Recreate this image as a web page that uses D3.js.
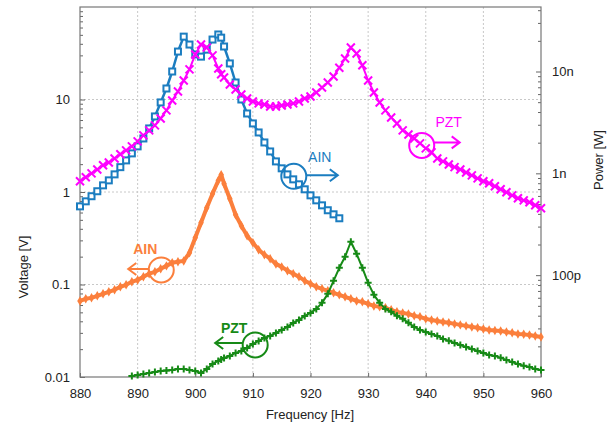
<!DOCTYPE html>
<html>
<head>
<meta charset="utf-8">
<script src="https://cdn.jsdelivr.net/npm/d3@7"></script>
<style>
  body { margin: 0; background: #fff; }
  text { font-family: "Liberation Sans", Arial, sans-serif; fill: #222; }
</style>
</head>
<body>
<div id="chart"></div>
<script>
// frequency points (Hz) shared by all series
var freqHz = [880, 881, 882, 883, 884, 885, 886, 887, 888, 889,
  890, 891, 892, 893, 894, 895, 896, 897, 898, 899,
  900, 901, 902, 903, 904, 904.5, 905, 906, 907, 908, 909,
  910, 911, 912, 913, 914, 915, 916, 917, 918, 919,
  920, 921, 922, 923, 924, 925, 926, 927, 928, 929,
  930, 931, 932, 933, 934, 935, 936, 937, 938, 939,
  940, 941, 942, 943, 944, 945, 946, 947, 948, 949,
  950, 951, 952, 953, 954, 955, 956, 957, 958, 959, 960];

// AIN power [W] (right axis, blue squares)
var ainPower = [4.74e-10, 5.31e-10, 5.96e-10, 6.67e-10, 7.62e-10, 8.53e-10, 9.77e-10, 1.15e-9, 1.34e-9, 1.57e-9,
  1.84e-9, 2.20e-9, 2.76e-9, 3.62e-9, 4.97e-9, 6.81e-9, 1.00e-8, 1.57e-8, 2.20e-8, 1.84e-8,
  1.47e-8, 1.40e-8, 1.64e-8, 2.06e-8, 2.31e-8, 2.15e-8, 1.76e-8, 1.20e-8, 7.80e-9, 5.31e-9, 3.87e-9,
  3.09e-9, 2.52e-9, 2.01e-9, 1.64e-9, 1.31e-9, 1.12e-9, 9.77e-10, 8.73e-10, 7.80e-10, 6.97e-10,
  6.08e-10, 5.43e-10, 4.85e-10, 4.34e-10, 3.96e-10, 3.62e-10, null, null, null, null,
  null, null, null, null, null, null, null, null, null, null,
  null, null, null, null, null, null, null, null, null, null,
  null, null, null, null, null, null, null, null, null, null, null];

// PZT power [W] (right axis, magenta crosses)
var pztPower = [8.36e-10, 9.14e-10, 1.00e-9, 1.09e-9, 1.20e-9, 1.28e-9, 1.40e-9, 1.54e-9, 1.68e-9, 1.84e-9,
  2.06e-9, 2.36e-9, 2.64e-9, 2.96e-9, 3.46e-9, 4.15e-9, 5.20e-9, 6.37e-9, 8.16e-9, 1.05e-8,
  1.47e-8, 1.84e-8, 1.72e-8, 1.44e-8, 1.07e-8, 9.40e-9, 8.73e-9, 7.46e-9, 6.66e-9, 5.95e-9, 5.43e-9,
  5.08e-9, 4.86e-9, 4.75e-9, 4.54e-9, 4.54e-9, 4.64e-9, 4.75e-9, 4.86e-9, 5.08e-9, 5.43e-9,
  5.69e-9, 6.22e-9, 6.97e-9, 7.80e-9, 8.93e-9, 1.09e-8, 1.34e-8, 1.72e-8, 1.50e-8, 1.15e-8,
  8.16e-9, 6.22e-9, 4.97e-9, 4.15e-9, 3.54e-9, 3.09e-9, 2.64e-9, 2.41e-9, 2.20e-9, 1.97e-9,
  1.76e-9, 1.61e-9, 1.40e-9, 1.31e-9, 1.22e-9, 1.15e-9, 1.09e-9, 1.02e-9, 9.55e-10, 8.93e-10,
  8.36e-10, 7.98e-10, 7.46e-10, 6.97e-10, 6.51e-10, 6.08e-10, 5.69e-10, 5.43e-10, 5.20e-10, 4.86e-10, 4.54e-10];

// AIN voltage [V] (left axis, orange)
var ainVolt = [0.0665, 0.0700, 0.0717, 0.0754, 0.0793, 0.0833, 0.0876, 0.0944, 0.0992, 0.107,
  0.112, 0.121, 0.131, 0.137, 0.148, 0.159, 0.172, 0.176, 0.180, 0.220,
  0.320, 0.466, 0.676, 0.960, 1.33, 1.54, 1.23, 0.847, 0.568, 0.432, 0.337,
  0.283, 0.238, 0.210, 0.190, 0.167, 0.155, 0.141, 0.131, 0.121, 0.110,
  0.102, 0.0944, 0.0897, 0.0854, 0.0812, 0.0773, 0.0735, 0.0700, 0.0665, 0.0649,
  0.0618, 0.0587, 0.0573, 0.0559, 0.0532, 0.0506, 0.0493, 0.0481, 0.0458, 0.0447,
  0.0425, 0.0414, 0.0404, 0.0394, 0.0385, 0.0375, 0.0366, 0.0357, 0.0348, 0.0340,
  0.0331, 0.0323, 0.0318, 0.0315, 0.0307, 0.0300, 0.0292, 0.0289, 0.0285, 0.0278, 0.0271];

// PZT voltage [V] (left axis, green)
var pztVolt = [null, null, null, null, null, null, null, null, null, 0.01025,
  0.01051, 0.01078, 0.01105, 0.01133, 0.01161, 0.01176, 0.01191, 0.01221, 0.01221, 0.01191,
  0.01161, 0.01105, 0.01221, 0.01383, 0.01490, 0.01547, 0.01606, 0.01688, 0.01820, 0.01912, 0.02062,
  0.02278, 0.02455, 0.02646, 0.02781, 0.02996, 0.03228, 0.03480, 0.03845, 0.04143, 0.04578,
  0.04933, 0.05451, 0.06331, 0.07925, 0.1096, 0.1516, 0.1994, 0.2899, 0.2149, 0.1516,
  0.1042, 0.0773, 0.0633, 0.0545, 0.0506, 0.0458, 0.0425, 0.0385, 0.0348, 0.0323,
  0.0307, 0.0292, 0.0278, 0.0258, 0.0246, 0.0233, 0.0222, 0.0211, 0.0201, 0.0191,
  0.0182, 0.0173, 0.0169, 0.0161, 0.0153, 0.0145, 0.0138, 0.0132, 0.0128, 0.0122, 0.0119];

var xTicks = [880, 890, 900, 910, 920, 930, 940, 950, 960];
var voltTicks = [0.01, 0.1, 1, 10];
var voltLabels = ["0.01", "0.1", "1", "10"];
var powerTicks = [1e-10, 1e-9, 1e-8];
var powerLabels = ["100p", "1n", "10n"];

var margin = {top: 7, right: 69, bottom: 55, left: 80},
    width = 610 - margin.left - margin.right,
    height = 432 - margin.top - margin.bottom;

var svg = d3.select("#chart").append("svg")
    .attr("width", 610)
    .attr("height", 432)
  .append("g")
    .attr("transform", "translate(" + margin.left + "," + margin.top + ")");

var x = d3.scaleLinear().domain([880, 960]).range([0, width]);
var yV = d3.scaleLog().domain([0.01, 100]).range([height, 0]);
var yP = d3.scaleLog().domain([1e-11, 4.3e-8]).range([height, 0]);

// minor ticks for log axes
function minors(lo, hi) {
  var out = [];
  for (var e = Math.floor(Math.log10(lo)); e <= Math.ceil(Math.log10(hi)); e++) {
    for (var m = 2; m <= 9; m++) {
      var v = m * Math.pow(10, e);
      if (v > lo && v < hi) out.push(v);
    }
  }
  return out;
}

// grid
var grid = svg.append("g").attr("stroke", "#c8c8c8").attr("stroke-dasharray", "2,2").attr("stroke-width", 1);
grid.selectAll(".gx").data(xTicks.slice(1, -1)).enter().append("line")
  .attr("x1", function(d) { return x(d); }).attr("x2", function(d) { return x(d); })
  .attr("y1", 0).attr("y2", height);
grid.selectAll(".gy").data(voltTicks.slice(1)).enter().append("line")
  .attr("x1", 0).attr("x2", width)
  .attr("y1", function(d) { return yV(d); }).attr("y2", function(d) { return yV(d); });

// axes
svg.append("g").attr("transform", "translate(0," + height + ")")
  .call(d3.axisBottom(x).tickValues(xTicks).tickSize(-4).tickPadding(12).tickSizeOuter(0));

svg.append("g")
  .call(d3.axisLeft(yV).tickValues(voltTicks).tickFormat(function(d, i) { return voltLabels[i]; })
    .tickSize(-5).tickPadding(10).tickSizeOuter(0));
svg.append("g")
  .call(d3.axisLeft(yV).tickValues(minors(0.01, 100)).tickFormat("").tickSize(-3).tickSizeOuter(0));

svg.append("g").attr("transform", "translate(" + width + ",0)")
  .call(d3.axisRight(yP).tickValues(powerTicks).tickFormat(function(d, i) { return powerLabels[i]; })
    .tickSize(-5).tickPadding(11).tickSizeOuter(0));
svg.append("g").attr("transform", "translate(" + width + ",0)")
  .call(d3.axisRight(yP).tickValues(minors(1e-11, 4.3e-8)).tickFormat("").tickSize(-3).tickSizeOuter(0));

svg.selectAll(".domain").remove();
svg.selectAll(".tick line").attr("stroke", "#666");
svg.selectAll(".tick text").style("font-size", "13px").attr("fill", "#222");

// frame
svg.append("rect").attr("width", width).attr("height", height)
  .attr("fill", "none").attr("stroke", "#777").attr("stroke-width", 1.2);

// axis titles
svg.append("text").attr("x", 230).attr("y", 412).attr("text-anchor", "middle")
  .style("font-size", "13px").text("Frequency [Hz]");
svg.append("text").attr("transform", "translate(-52,260) rotate(-90)").attr("text-anchor", "middle")
  .style("font-size", "13px").text("Voltage [V]");
svg.append("text").attr("transform", "translate(523,153) rotate(-90)").attr("text-anchor", "middle")
  .style("font-size", "13px").text("Power [W]");

var plot = svg.append("g");

function series(vals) {
  return freqHz.map(function(f, i) { return {f: f, v: vals[i]}; })
    .filter(function(d) { return d.v != null; });
}

var blue = "#1b7dc0", magenta = "#ff00ff", orange = "#fb7f3c", green = "#168a16";

function drawLine(data, yScale, color, w) {
  plot.append("path").datum(data)
    .attr("fill", "none").attr("stroke", color).attr("stroke-width", w)
    .attr("stroke-linejoin", "round")
    .attr("d", d3.line().x(function(d) { return x(d.f); }).y(function(d) { return yScale(d.v); }));
}

// orange AIN voltage
var dOr = series(ainVolt);
drawLine(dOr, yV, orange, 4);
plot.selectAll(".mo").data(dOr).enter().append("path")
  .attr("transform", function(d) { return "translate(" + x(d.f) + "," + yV(d.v) + ")"; })
  .attr("d", d3.symbol(d3.symbolDiamond, 26)).attr("fill", orange);

// green PZT voltage
var dGr = series(pztVolt);
drawLine(dGr, yV, green, 2);
plot.selectAll(".mg").data(dGr).enter().append("path")
  .attr("transform", function(d) { return "translate(" + x(d.f) + "," + yV(d.v) + ")"; })
  .attr("d", "M-3.5,0H3.5M0,-3.5V3.5").attr("stroke", green).attr("stroke-width", 2);

// blue AIN power
var dBl = series(ainPower);
drawLine(dBl, yP, blue, 2.5);
plot.selectAll(".mb").data(dBl).enter().append("rect")
  .attr("x", function(d) { return x(d.f) - 3; }).attr("y", function(d) { return yP(d.v) - 3; })
  .attr("width", 6).attr("height", 6)
  .attr("fill", "#fff").attr("stroke", blue).attr("stroke-width", 2);

// magenta PZT power
var dMg = series(pztPower);
drawLine(dMg, yP, magenta, 2);
plot.selectAll(".mm").data(dMg).enter().append("path")
  .attr("transform", function(d) { return "translate(" + x(d.f) + "," + yP(d.v) + ")"; })
  .attr("d", "M-4,-4L4,4M-4,4L4,-4").attr("stroke", magenta).attr("stroke-width", 2);

// annotations: circle on curve, arrow toward its axis, label
function note(hz, v, yScale, color, dir, ay, ax0, ax1, label, tx, ty, bold) {
  var cx = x(hz), cy = yScale(v);
  var g = svg.append("g").attr("stroke", color).attr("fill", "none").attr("stroke-width", 2);
  g.append("circle").attr("cx", cx).attr("cy", cy).attr("r", 12.5);
  var y0 = cy + ay, xa = cx + ax0, xb = cx + ax1;
  g.append("path").attr("d", "M" + xa + "," + y0 + "H" + xb +
    "M" + (xb - dir * 8) + "," + (y0 - 6) + "L" + xb + "," + y0 + "L" + (xb - dir * 8) + "," + (y0 + 6));
  svg.append("text").attr("x", cx + tx).attr("y", cy + ty).attr("text-anchor", "middle")
    .style("font-size", "14px").style("font-weight", bold ? "bold" : "normal")
    .style("fill", color).text(label);
}

note(917.1, 9.35e-10, yP, blue, 1, -1, 12.5, 44, "AIN", 26, -14, false);
note(939.3, 1.88e-9, yP, magenta, 1, -3, 12.5, 38, "PZT", 27, -18, false);
note(894.1, 0.1435, yV, orange, -1, -1, -12.5, -33, "AIN", -16, -16, true);
note(910.4, 0.0222, yV, green, -1, -2, -12.5, -40, "PZT", -21, -12, true);
</script>
</body>
</html>
